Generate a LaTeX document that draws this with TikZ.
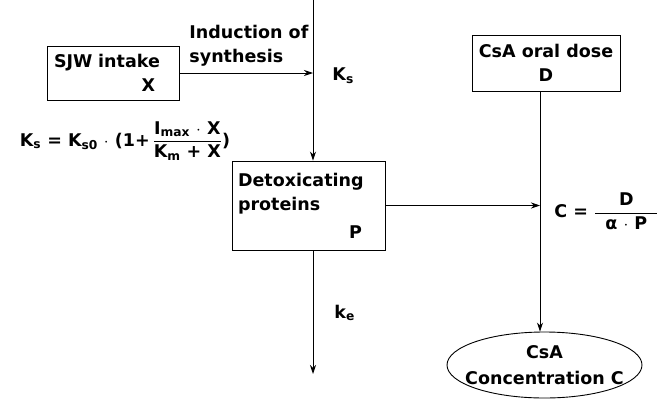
\documentclass[tikz,border=0pt]{standalone}
\usepackage{amsmath}
\usepackage{fontspec}
\setmainfont{DejaVu Sans}[Ligatures=NoCommon]
\usepackage{tikz}
\usetikzlibrary{shapes.geometric}
\usetikzlibrary{positioning}
\usetikzlibrary{calc}
\usetikzlibrary{arrows.meta}
\tikzset{every picture/.style={line width=0.9pt},
  txt/.style={font=\fontsize{17.5}{24}\selectfont\bfseries},
  flow/.style={-{Stealth[length=9pt,width=6pt]}},
  boxnode/.style={draw,rectangle,inner sep=0pt,txt},
  label/.style={txt,inner sep=0pt}}
\newcommand{\subx}[1]{\textsubscript{#1}}
\begin{document}
\begin{tikzpicture}[x=1pt,y=-1pt]
\useasboundingbox (0,0) rectangle (660,399);
% boxes
\node[boxnode,minimum width=132pt,minimum height=54pt,text width=118pt,align=left] (sjw) at (113,73) {SJW intake\\\hfill X\hspace*{17pt}\mbox{}};
\node[boxnode,minimum width=153pt,minimum height=89pt,text width=141pt,align=left] (detox) at (308.5,205.5) {Detoxicating\\proteins\\[4pt]\hfill P\hspace*{17pt}\mbox{}};
\node[boxnode,minimum width=148pt,minimum height=56pt,align=center] (dose) at (546,63) {CsA oral dose\\D};
\node[draw,ellipse,minimum width=195pt,minimum height=66pt,inner xsep=-14pt,inner ysep=0pt,align=center,txt] (conc) at (544.5,365) {CsA\\[2pt]Concentration C};
% free ends
\coordinate (top) at (313,0);
\coordinate (sink) at (313,374);
\coordinate (cline) at (540,0);
% connectors
\draw[flow] (top) -- (top |- detox.north);
\draw[flow] (sjw.east) -- (sjw.east -| top);
\draw[flow] (top |- detox.south) -- (sink);
\draw[flow] (detox.east) -- (detox.east -| cline);
\draw[flow] (cline |- dose.south) -- (cline |- conc.north);
% labels
\node[label,anchor=north west,align=left] (induct) at (189,25) {Induction of\\synthesis};
\node[label,anchor=west] (ks) at (332,76) {K\subx{s}};
\node[label,anchor=west] (ke) at (334,313) {k\subx{e}};
\node[label] (ksform) at (125,141) {K\subx{s} = K\subx{s0} $\cdot$ (1+\,$\dfrac{\text{I\subx{max} $\cdot$ X}}{\text{K\subx{m} + X}}$)};
\node[label,anchor=west] (cform) at (554,211) {C = $\dfrac{\text{D}}{\text{\makebox[62pt]{α $\cdot$ P}}}$};
\end{tikzpicture}
\end{document}
